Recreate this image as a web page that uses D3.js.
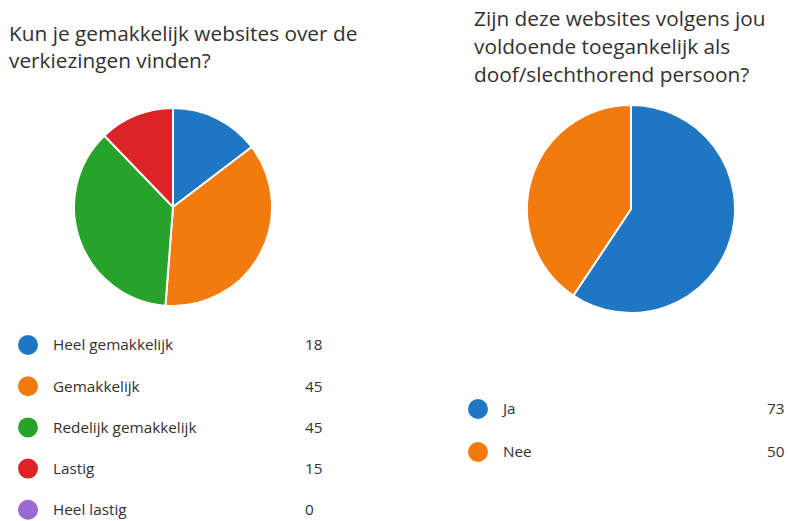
<!DOCTYPE html>
<html>
<head>
<meta charset="utf-8">
<script src="https://cdn.jsdelivr.net/npm/d3@7"></script>
<style>
  body { margin: 0; background: #fff; }
  svg { display: block; font-family: "Segoe UI", "Open Sans", sans-serif; }
</style>
</head>
<body>
<svg id="chart" width="788" height="521"></svg>
<script>
// Data
const q1Title = ["Kun je gemakkelijk websites over de", "verkiezingen vinden?"];
const q1Labels = ["Heel gemakkelijk", "Gemakkelijk", "Redelijk gemakkelijk", "Lastig", "Heel lastig"];
const q1Values = [18, 45, 45, 15, 0];
const q1Colors = ["#1f77c4", "#f27a0e", "#27a22b", "#dc2428", "#9a69d1"];

const q2Title = ["Zijn deze websites volgens jou", "voldoende toegankelijk als", "doof/slechthorend persoon?"];
const q2Labels = ["Ja", "Nee"];
const q2Values = [73, 50];
const q2Colors = ["#1f77c4", "#f27a0e"];

const svg = d3.select("#chart");

function drawBlock(cfg) {
    const g = svg.append("g");

    // Title
    g.append("text")
        .attr("fill", "#323130")
        .attr("font-size", cfg.titleSize)
        .selectAll("tspan")
        .data(cfg.title)
        .join("tspan")
        .attr("x", cfg.titleX)
        .attr("y", (d, i) => cfg.titleY + i * cfg.titleLead)
        .text(d => d);

    // Pie
    const data = cfg.labels.map((l, i) => ({ label: l, value: cfg.values[i], color: cfg.colors[i] }));
    const pie = d3.pie().sort(null).value(d => d.value);
    const arc = d3.arc().innerRadius(0).outerRadius(cfg.r);

    g.append("g")
        .attr("transform", `translate(${cfg.cx},${cfg.cy})`)
        .selectAll("path")
        .data(pie(data).filter(d => d.data.value > 0))
        .join("path")
        .attr("d", arc)
        .attr("fill", d => d.data.color)
        .attr("stroke", "#fff")
        .attr("stroke-width", 2)
        .attr("stroke-linejoin", "round");

    // Legend
    const y = d3.scalePoint()
        .domain(cfg.labels)
        .range([cfg.legendY0, cfg.legendY0 + cfg.legendStep * (cfg.labels.length - 1)]);

    const item = g.append("g")
        .selectAll("g")
        .data(data)
        .join("g")
        .attr("transform", d => `translate(0,${y(d.label)})`);

    item.append("circle")
        .attr("cx", cfg.dotX)
        .attr("r", 10)
        .attr("fill", d => d.color);

    item.append("text")
        .attr("x", cfg.labelX)
        .attr("dy", "0.35em")
        .attr("font-size", 15.3)
        .attr("fill", "#323130")
        .text(d => d.label);

    item.append("text")
        .attr("x", cfg.valueX)
        .attr("dy", "0.35em")
        .attr("font-size", 15.3)
        .attr("fill", "#323130")
        .text(d => d.value);
}

drawBlock({
    title: q1Title, titleX: 9, titleY: 41, titleLead: 27, titleSize: 20.8,
    labels: q1Labels, values: q1Values, colors: q1Colors,
    cx: 173, cy: 207, r: 99,
    legendY0: 345, legendStep: 41.2, dotX: 28, labelX: 53, valueX: 305
});

drawBlock({
    title: q2Title, titleX: 474, titleY: 26, titleLead: 28, titleSize: 20.8,
    labels: q2Labels, values: q2Values, colors: q2Colors,
    cx: 631, cy: 209, r: 104,
    legendY0: 409, legendStep: 43, dotX: 478, labelX: 503, valueX: 767
});
</script>
</body>
</html>
